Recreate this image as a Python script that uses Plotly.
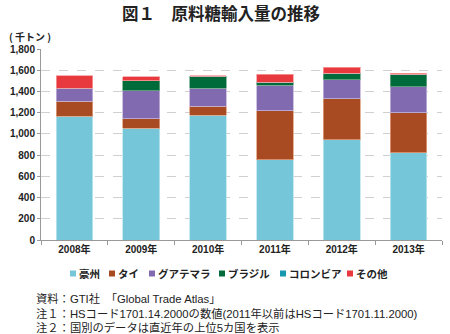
import plotly.graph_objects as go

years = ["2008年", "2009年", "2010年", "2011年", "2012年", "2013年"]
series_names = ["豪州", "タイ", "グアテマラ", "ブラジル", "コロンビア", "その他"]
australia = [1165, 1052, 1178, 757, 945, 823]
thailand = [142, 91, 82, 462, 384, 377]
guatemala = [125, 264, 172, 238, 179, 245]
brazil = [0, 94, 110, 32, 63, 119]
colombia = [0, 0, 0, 0, 0, 0]
others = [117, 38, 5, 75, 59, 7]
colors = ["#74C6D8", "#A84B22", "#826AB0", "#006B3A", "#1898B0", "#E8393E"]
edge_colors = ["#BFE6EE", "#E0A080", "#C3B5DD", "#6FAA8A", "#80C8D8", "#F5A0A0"]
yticks = [0, 200, 400, 600, 800, 1000, 1200, 1400, 1600, 1800]

FONT = "Liberation Sans, Noto Sans CJK JP"
JFONT = "Noto Sans CJK JP"

W, H = 450, 334
l, r, t, b = 41, 8, 49, 94
pw, ph = W - l - r, H - t - b

def px(x):
    return (x - l) / pw

def py(y):
    return 1 - (y - t) / ph

fig = go.Figure()
for name, vals, c, ec in zip(series_names, [australia, thailand, guatemala, brazil, colombia, others], colors, edge_colors):
    fig.add_trace(go.Bar(x=years, y=vals, name=name, marker=dict(color=c, line=dict(color=ec, width=0.8)),
                         width=0.55, showlegend=False))

annotations = [
    dict(text="<b>図１　原料糖輸入量の推移</b>", x=px(221), y=py(13), xanchor="center", yanchor="middle",
         font=dict(family=JFONT, size=16.5, color="#222")),
    dict(text="<b>( 千トン )</b>", x=px(7), y=py(36), xanchor="left", yanchor="middle",
         font=dict(family=JFONT, size=10, color="#222")),
    dict(text="資料：GTI社　「Global Trade Atlas」", x=px(34), y=py(298), xanchor="left", yanchor="middle",
         font=dict(family=FONT, size=11.3, color="#222")),
    dict(text="注１：HSコード1701.14.2000の数値(2011年以前はHSコード1701.11.2000)", x=px(34), y=py(313),
         xanchor="left", yanchor="middle", font=dict(family=FONT, size=11.3, color="#222")),
    dict(text="注２：国別のデータは直近年の上位5カ国を表示", x=px(34), y=py(327), xanchor="left",
         yanchor="middle", font=dict(family=FONT, size=11.3, color="#222")),
]
shapes = []
# manual legend
legend_sq_x = [70, 109, 149, 219, 280, 347]
legend_y = 273.5
for name, c, sx in zip(series_names, colors, legend_sq_x):
    shapes.append(dict(type="rect", xref="paper", yref="paper", x0=px(sx), x1=px(sx + 6),
                       y0=py(legend_y - 3), y1=py(legend_y + 3), fillcolor=c, line=dict(width=0)))
    annotations.append(dict(text="<b>" + name + "</b>", x=px(sx + 7), y=py(legend_y), xanchor="left",
                            yanchor="middle", font=dict(family=JFONT, size=10.5, color="#222")))

for a in annotations:
    a.update(xref="paper", yref="paper", showarrow=False)

fig.update_layout(
    barmode="stack",
    width=W, height=H,
    margin=dict(l=l, r=r, t=t, b=b, autoexpand=False),
    paper_bgcolor="white", plot_bgcolor="white",
    font=dict(family=FONT, size=10, color="#222"),
    showlegend=False,
    xaxis=dict(showline=True, linecolor="#999", linewidth=1, ticks="outside", tickson="boundaries",
               ticklen=4, tickcolor="#999", tickfont=dict(family=FONT, size=10, color="#222", weight="bold")),
    yaxis=dict(range=[0, 1800], tickvals=yticks, tickformat=",", showline=True, linecolor="#999",
               linewidth=1, ticks="outside", ticklen=3, tickcolor="#999", showgrid=True,
               gridcolor="#D0D0D0", griddash="dash", gridwidth=1, zeroline=False,
               tickfont=dict(family=FONT, size=10, color="#222", weight="bold")),
    annotations=annotations,
    shapes=shapes,
)

fig.write_html("out.html")
